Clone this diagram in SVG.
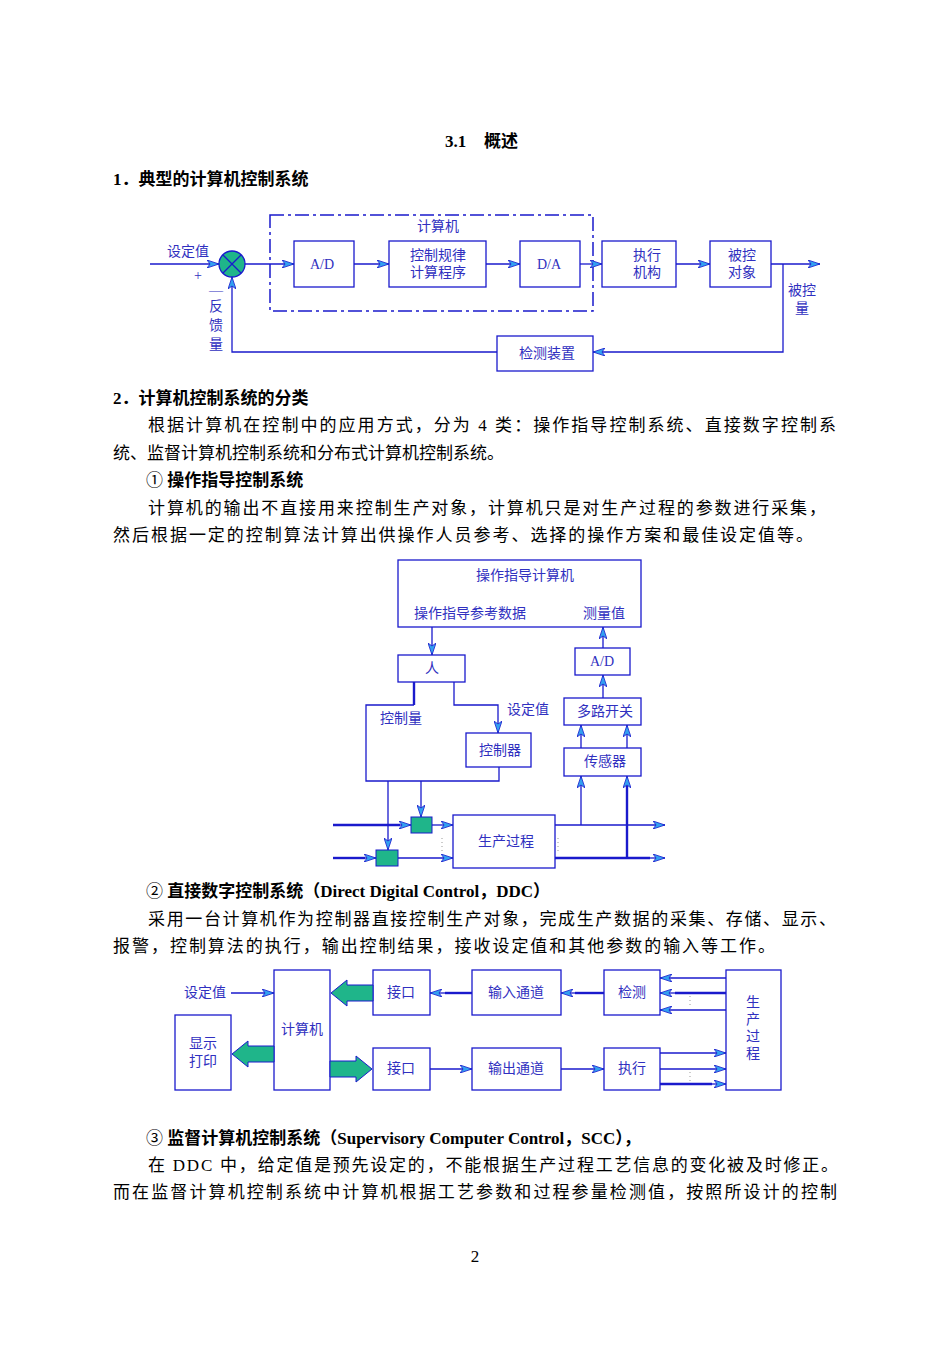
<svg xmlns="http://www.w3.org/2000/svg" width="950" height="1345" viewBox="0 0 950 1345">
<style>
.t{font-family:"Liberation Serif","Noto Sans CJK SC",serif;font-size:17px;fill:#000}
.b{font-weight:bold}
.d{font-family:"Liberation Serif","Noto Sans CJK SC",serif;font-size:14px;fill:#3030c0}
.bx{fill:#fff;stroke:#1a1acc;stroke-width:1.3}
.ln{fill:none;stroke:#1a1acc;stroke-width:1.3}
.th{fill:none;stroke:#1a1acc;stroke-width:2.4}
.g{fill:#1fb58a;stroke:#1a1acc;stroke-width:1}
.fa{fill:#1fb58a;stroke:#1a1acc;stroke-width:1}
.dot{stroke:#999;stroke-width:1;stroke-dasharray:1 3}
</style>
<defs>
<marker id="a" viewBox="0 0 12 8" refX="12" refY="4" markerWidth="12" markerHeight="8" markerUnits="userSpaceOnUse" orient="auto">
<path d="M0,0 L12,4 L0,8 L3,4 Z" fill="#33a0f0" stroke="#1a1acc" stroke-width="0.8"/>
</marker>
</defs>
<rect width="950" height="1345" fill="#fff"/>

<text class="t b" x="445" y="147" font-size="20">3.1</text>
<text class="t b" x="484" y="147" font-size="20">概述</text>
<text class="t b" x="113" y="185">1．典型的计算机控制系统</text>

<!-- Diagram 1 -->
<g id="d1-nodes">
<rect x="270" y="215" width="323" height="96" fill="none" stroke="#1a1acc" stroke-width="1.5" stroke-dasharray="14 4 3 4"/>
<text class="d" x="438" y="231" text-anchor="middle">计算机</text>
<g id="sum"><circle cx="232" cy="264" r="13" fill="#1fb58a" stroke="#1a1acc" stroke-width="1.3"/><path d="M223,255 L241,273 M241,255 L223,273" stroke="#1a1acc" stroke-width="1.3"/></g>
<g id="ad1"><rect class="bx" x="294" y="241" width="60" height="46"/><text class="d" x="322" y="269" text-anchor="middle">A/D</text></g>
<g id="law"><rect class="bx" x="389" y="241" width="97" height="46"/><text class="d" x="438" y="260" text-anchor="middle">控制规律</text><text class="d" x="438" y="277" text-anchor="middle">计算程序</text></g>
<g id="da"><rect class="bx" x="520" y="241" width="60" height="46"/><text class="d" x="549" y="269" text-anchor="middle">D/A</text></g>
<g id="act"><rect class="bx" x="602" y="241" width="74" height="46"/><text class="d" x="647" y="260" text-anchor="middle">执行</text><text class="d" x="647" y="277" text-anchor="middle">机构</text></g>
<g id="obj"><rect class="bx" x="710" y="241" width="61" height="46"/><text class="d" x="742" y="260" text-anchor="middle">被控</text><text class="d" x="742" y="277" text-anchor="middle">对象</text></g>
<g id="det"><rect class="bx" x="497" y="336" width="96" height="35"/><text class="d" x="547" y="358" text-anchor="middle">检测装置</text></g>
<text class="d" x="188" y="256" text-anchor="middle">设定值</text>
<text class="d" x="198" y="280" text-anchor="middle">+</text>
<text class="d" x="216" y="295" text-anchor="middle">—</text>
<text class="d" x="216" y="311" text-anchor="middle">反</text>
<text class="d" x="216" y="330" text-anchor="middle">馈</text>
<text class="d" x="216" y="349" text-anchor="middle">量</text>
<text class="d" x="802" y="295" text-anchor="middle">被控</text>
<text class="d" x="802" y="313" text-anchor="middle">量</text>
</g>
<g id="d1-conn">
<path class="ln" d="M150,264 H219" marker-end="url(#a)"/>
<path class="ln" d="M245,264 H294" marker-end="url(#a)"/>
<path class="ln" d="M354,264 H389" marker-end="url(#a)"/>
<path class="ln" d="M486,264 H520" marker-end="url(#a)"/>
<path class="ln" d="M580,264 H602" marker-end="url(#a)"/>
<path class="ln" d="M676,264 H710" marker-end="url(#a)"/>
<path class="ln" d="M771,264 H820" marker-end="url(#a)"/>
<path class="ln" d="M783,264 V352 H593" marker-end="url(#a)"/>
<path class="ln" d="M497,352 H232 V277" marker-end="url(#a)"/>
</g>

<text class="t b" x="113" y="404">2．计算机控制系统的分类</text>
<text class="t" x="148" y="431" textLength="688" lengthAdjust="spacing">根据计算机在控制中的应用方式，分为 4 类：操作指导控制系统、直接数字控制系</text>
<text class="t" x="113" y="459">统、监督计算机控制系统和分布式计算机控制系统。</text>
<text class="t" x="146" y="486">① <tspan class="b">操作指导控制系统</tspan></text>
<text class="t" x="148" y="514" textLength="678" lengthAdjust="spacing">计算机的输出不直接用来控制生产对象，计算机只是对生产过程的参数进行采集，</text>
<text class="t" x="113" y="541" textLength="700" lengthAdjust="spacing">然后根据一定的控制算法计算出供操作人员参考、选择的操作方案和最佳设定值等。</text>

<!-- Diagram 2 -->
<g id="d2-nodes">
<g id="opc"><rect class="bx" x="398" y="560" width="243" height="67"/><text class="d" x="525" y="580" text-anchor="middle">操作指导计算机</text><text class="d" x="470" y="618" text-anchor="middle">操作指导参考数据</text><text class="d" x="604" y="618" text-anchor="middle">测量值</text></g>
<g id="man"><rect class="bx" x="398" y="655" width="67" height="27"/><text class="d" x="432" y="673" text-anchor="middle">人</text></g>
<g id="ad2"><rect class="bx" x="575" y="648" width="55" height="27"/><text class="d" x="602" y="666" text-anchor="middle">A/D</text></g>
<g id="mux"><rect class="bx" x="564" y="698" width="77" height="27"/><text class="d" x="605" y="716" text-anchor="middle">多路开关</text></g>
<g id="sens"><rect class="bx" x="564" y="748" width="77" height="28"/><text class="d" x="605" y="766" text-anchor="middle">传感器</text></g>
<g id="ctl"><rect class="bx" x="466" y="733" width="65" height="34"/><text class="d" x="500" y="755" text-anchor="middle">控制器</text></g>
<g id="proc"><rect class="bx" x="453" y="815" width="102" height="53"/><text class="d" x="506" y="846" text-anchor="middle">生产过程</text></g>
<text class="d" x="401" y="723" text-anchor="middle">控制量</text>
<text class="d" x="528" y="714" text-anchor="middle">设定值</text>
<rect class="g" x="411" y="817" width="21" height="16"/>
<rect class="g" x="376" y="850" width="22" height="16"/>
</g>
<g id="d2-conn">
<path class="ln" d="M432,627 V655" marker-end="url(#a)"/>
<path class="ln" d="M603,648 V627" marker-end="url(#a)"/>
<path class="ln" d="M603,698 V675" marker-end="url(#a)"/>
<path class="ln" d="M581,748 V725" marker-end="url(#a)"/>
<path class="ln" d="M627,748 V725" marker-end="url(#a)"/>
<path class="th" d="M414,682 V705"/>
<path class="ln" d="M414,705 H366 V781 H499 V767"/>
<path class="ln" d="M454,682 V705 H498 V733" marker-end="url(#a)"/>
<path class="ln" d="M388,781 V850" marker-end="url(#a)"/>
<path class="ln" d="M421,781 V817" marker-end="url(#a)"/>
<path class="th" d="M333,825 H400"/>
<path class="ln" d="M395,825 H411" marker-end="url(#a)"/>
<path class="ln" d="M432,825 H453" marker-end="url(#a)"/>
<path class="th" d="M333,858 H365"/>
<path class="ln" d="M360,858 H376" marker-end="url(#a)"/>
<path class="ln" d="M398,858 H453" marker-end="url(#a)"/>
<path class="ln" d="M555,825 H665" marker-end="url(#a)"/>
<path class="th" d="M555,858 H650"/>
<path class="ln" d="M640,858 H665" marker-end="url(#a)"/>
<path class="ln" d="M581,825 V776" marker-end="url(#a)"/>
<path class="th" d="M627,858 V786"/>
<path class="ln" d="M627,790 V776" marker-end="url(#a)"/>
<line class="dot" x1="442" y1="838" x2="442" y2="852"/>
<line class="dot" x1="558" y1="838" x2="558" y2="852"/>
</g>

<text class="t" x="146" y="897">② <tspan class="b">直接数字控制系统（Direct Digital Control，DDC）</tspan></text>
<text class="t" x="148" y="925" textLength="688" lengthAdjust="spacing">采用一台计算机作为控制器直接控制生产对象，完成生产数据的采集、存储、显示、</text>
<text class="t" x="113" y="952" textLength="662" lengthAdjust="spacing">报警，控制算法的执行，输出控制结果，接收设定值和其他参数的输入等工作。</text>

<!-- Diagram 3 -->
<g id="d3-nodes">
<text class="d" x="205" y="997" text-anchor="middle">设定值</text>
<g id="pc"><rect class="bx" x="274" y="970" width="56" height="120"/><text class="d" x="302" y="1034" text-anchor="middle">计算机</text></g>
<g id="disp"><rect class="bx" x="175" y="1015" width="56" height="75"/><text class="d" x="203" y="1048" text-anchor="middle">显示</text><text class="d" x="203" y="1066" text-anchor="middle">打印</text></g>
<g id="if1"><rect class="bx" x="373" y="970" width="57" height="45"/><text class="d" x="401" y="997" text-anchor="middle">接口</text></g>
<g id="inch"><rect class="bx" x="472" y="970" width="89" height="45"/><text class="d" x="516" y="997" text-anchor="middle">输入通道</text></g>
<g id="detc"><rect class="bx" x="604" y="970" width="56" height="45"/><text class="d" x="632" y="997" text-anchor="middle">检测</text></g>
<g id="if2"><rect class="bx" x="373" y="1048" width="57" height="42"/><text class="d" x="401" y="1073" text-anchor="middle">接口</text></g>
<g id="outch"><rect class="bx" x="472" y="1048" width="89" height="42"/><text class="d" x="516" y="1073" text-anchor="middle">输出通道</text></g>
<g id="exe"><rect class="bx" x="604" y="1048" width="56" height="42"/><text class="d" x="632" y="1073" text-anchor="middle">执行</text></g>
<g id="prc"><rect class="bx" x="726" y="970" width="55" height="120"/><text class="d" x="753" y="1007" text-anchor="middle">生</text><text class="d" x="753" y="1024" text-anchor="middle">产</text><text class="d" x="753" y="1041" text-anchor="middle">过</text><text class="d" x="753" y="1058" text-anchor="middle">程</text></g>
</g>
<g id="d3-conn">
<path class="ln" d="M231,993 H274" marker-end="url(#a)"/>
<path class="fa" d="M373,985 H347 V980 L331,993 L347,1006 V1001 H373 Z"/>
<path class="fa" d="M274,1046 H248 V1041 L232,1054 L248,1067 V1062 H274 Z"/>
<path class="fa" d="M330,1061 H356 V1056 L372,1069 L356,1082 V1077 H330 Z"/>
<path class="th" d="M472,993 H445"/>
<path class="ln" d="M450,993 H430" marker-end="url(#a)"/>
<path class="th" d="M604,993 H575"/>
<path class="ln" d="M580,993 H561" marker-end="url(#a)"/>
<path class="ln" d="M726,978 H660" marker-end="url(#a)"/>
<path class="th" d="M726,993 H675"/>
<path class="ln" d="M680,993 H660" marker-end="url(#a)"/>
<path class="ln" d="M726,1010 H660" marker-end="url(#a)"/>
<path class="ln" d="M430,1069 H472" marker-end="url(#a)"/>
<path class="ln" d="M561,1069 H604" marker-end="url(#a)"/>
<path class="ln" d="M660,1053 H726" marker-end="url(#a)"/>
<path class="ln" d="M660,1069 H726" marker-end="url(#a)"/>
<path class="th" d="M660,1084 H712"/>
<path class="ln" d="M705,1084 H726" marker-end="url(#a)"/>
<line class="dot" x1="690" y1="996" x2="690" y2="1008"/>
<line class="dot" x1="690" y1="1072" x2="690" y2="1082"/>
</g>

<text class="t" x="146" y="1144">③ <tspan class="b">监督计算机控制系统（Supervisory Computer Control，SCC），</tspan></text>
<text class="t" x="148" y="1171" textLength="690" lengthAdjust="spacing">在 DDC 中，给定值是预先设定的，不能根据生产过程工艺信息的变化被及时修正。</text>
<text class="t" x="113" y="1198" textLength="724" lengthAdjust="spacing">而在监督计算机控制系统中计算机根据工艺参数和过程参量检测值，按照所设计的控制</text>
<text class="t" x="475" y="1262" text-anchor="middle" font-size="11">2</text>
</svg>
